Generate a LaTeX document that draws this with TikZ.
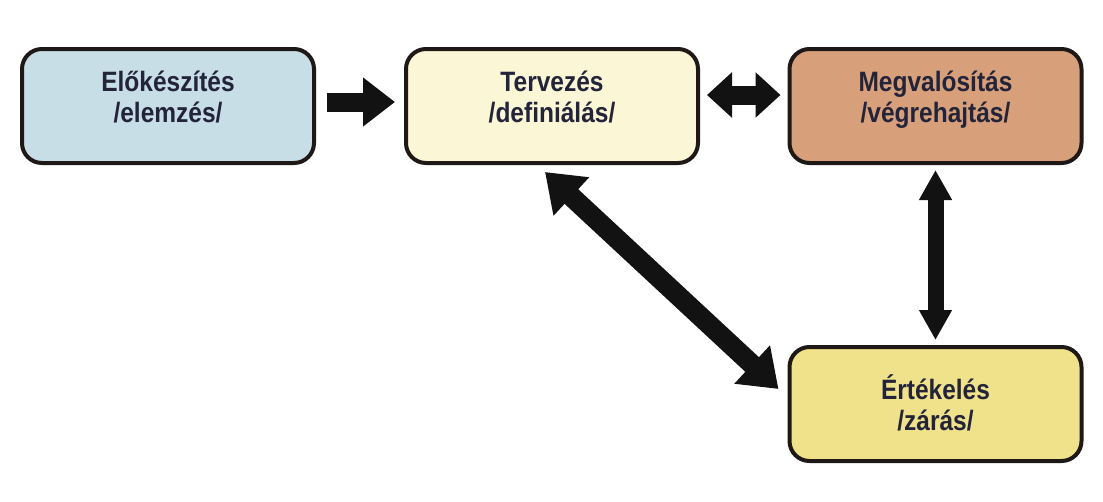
\documentclass[tikz,border=0pt]{standalone}
\usepackage{fontspec}
\setmainfont{Liberation Sans}[FakeStretch=0.875]
\usetikzlibrary{arrows.meta}
\definecolor{cblue}{RGB}{200,222,230}
\definecolor{ccream}{RGB}{251,246,214}
\definecolor{ctan}{RGB}{216,160,122}
\definecolor{cyellow}{RGB}{240,226,138}
\definecolor{cline}{RGB}{30,25,22}
\definecolor{ctxt}{RGB}{35,36,58}
\definecolor{carrow}{RGB}{18,18,18}
\begin{document}
\begin{tikzpicture}[x=1pt,y=-1pt,
  box/.style={draw=cline, line width=4pt, rounded corners=20pt,
    minimum width=292pt, minimum height=114pt, inner sep=0pt,
    align=center, text=ctxt, font=\fontsize{28}{31}\selectfont\bfseries,
    text height=40pt, text depth=8pt},
  lowtext/.style={text height=60pt},
  arrbase/.style={draw=carrow, fill=carrow},
  arrA/.style={arrbase, line width=19pt, -{Triangle[length=32pt,width=47pt]}},
  arrB/.style={arrbase, line width=19pt, {Triangle[length=25pt,width=44pt]}-{Triangle[length=25pt,width=44pt]}},
  arrC/.style={arrbase, line width=16pt, {Triangle[length=30pt,width=31pt]}-{Triangle[length=30pt,width=31pt]}},
  arrD/.style={arrbase, line width=20pt, {Triangle[length=36pt,width=50pt]}-{Triangle[length=36pt,width=50pt]}}]
\useasboundingbox (0,0) rectangle (1103,501);
\node[box, fill=cblue]   (b1) at (168,106)   {Előkészítés\\/elemzés/};
\node[box, fill=ccream]  (b2) at (552,106)   {Tervezés\\/definiálás/};
\node[box, fill=ctan]    (b3) at (935.5,106) {Megvalósítás\\/végrehajtás/};
\node[box, lowtext, fill=cyellow] (b4) at (935.5,404) {Értékelés\\/zárás/};
\draw[arrA] ([shift={(11pt,4pt)}]b1.east) -- ([shift={(-9pt,4pt)}]b2.west);
\draw[arrB] ([shift={(7pt,11pt)}]b2.east) -- ([shift={(-7pt,11pt)}]b3.west);
\draw[arrC] ([shift={(0pt,-5pt)}]b3.south) -- ([shift={(0pt,5pt)}]b4.north);
\draw[arrD] ([shift={(-7pt,-7pt)}]b2.south) -- ([shift={(-9pt,15pt)}]b4.west);
\end{tikzpicture}
\end{document}
